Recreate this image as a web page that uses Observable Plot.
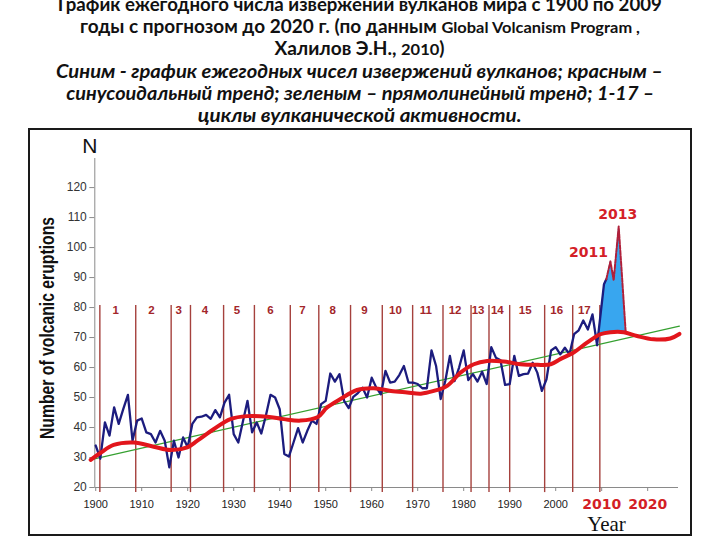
<!DOCTYPE html>
<html><head><meta charset="utf-8">
<script src="https://cdn.jsdelivr.net/npm/d3@7"></script>
<script src="https://cdn.jsdelivr.net/npm/@observablehq/plot@0.6"></script>
<style>
body{margin:0;width:720px;height:540px;overflow:hidden;background:#fff;position:relative;}
#title{position:absolute;left:0;top:-7px;width:720px;font-family:Lato,"Noto Sans",sans-serif;font-weight:bold;font-size:18.5px;line-height:22.2px;color:#111;}
#title .row{text-align:center;white-space:nowrap;height:22.2px;}
#title .ln{display:inline-block;transform-origin:50% 50%;}
#title .sm{font-size:16px}
#title .it{font-style:italic;font-size:19.5px}
#frame{position:absolute;left:28px;top:128px;width:664px;height:408px;box-sizing:border-box;border:2px solid #1a1a1a;}
#chart{position:absolute;left:0;top:125px;}
</style></head>
<body>
<div id="title">
<div class="row"><span class="ln">График ежегодного числа извержений вулканов мира с 1900 по 2009</span></div>
<div class="row"><span class="ln">годы с прогнозом до 2020 г. (по данным <span class="sm">Global Volcanism Program ,</span></span></div>
<div class="row"><span class="ln">Халилов Э.Н., <span class="sm">2010</span>)</span></div>
<div class="row"><span class="ln it">Синим - график ежегодных чисел извержений вулканов; красным –</span></div>
<div class="row"><span class="ln it">синусоидальный тренд; зеленым – прямолинейный тренд; 1-17 –</span></div>
<div class="row"><span class="ln it">циклы вулканической активности.</span></div>
</div>
<div id="frame"></div>
<div id="chart"></div>
<script>
// Observed annual eruption counts 1900–2009
const years = [1900,1901,1902,1903,1904,1905,1906,1907,1908,1909,1910,1911,1912,1913,1914,1915,1916,1917,1918,1919,1920,1921,1922,1923,1924,1925,1926,1927,1928,1929,1930,1931,1932,1933,1934,1935,1936,1937,1938,1939,1940,1941,1942,1943,1944,1945,1946,1947,1948,1949,1950,1951,1952,1953,1954,1955,1956,1957,1958,1959,1960,1961,1962,1963,1964,1965,1966,1967,1968,1969,1970,1971,1972,1973,1974,1975,1976,1977,1978,1979,1980,1981,1982,1983,1984,1985,1986,1987,1988,1989,1990,1991,1992,1993,1994,1995,1996,1997,1998,1999,2000,2001,2002,2003,2004,2005,2006,2007,2008,2009];
const eruptions = [34,29.6,41.7,37.3,46.7,41.2,46.2,50.9,35.6,42.3,43,38.4,37.8,35,38.9,35.6,26.7,35.6,30,36.7,33.4,41.2,43.4,43.6,44.2,42.9,45.8,43.4,48.3,50.9,37.8,35,42,48.9,38.4,41.7,38,44,50.9,50,46.1,31.2,30.3,35,39.8,35,38.9,42.3,41.2,47.8,48.9,58,55.3,57.8,48.9,46.5,50.2,51.5,53.3,50,56.6,53.3,51.1,58.9,55,55.3,57.5,60.5,55,55,54.5,53.1,53.1,65.7,60.5,49.5,55.5,63.9,55.5,60,65.7,55.8,57.8,55.3,58.6,54.5,66.8,63.3,62.4,54.2,54.5,63.9,57.2,57.8,58,61.6,58.3,52.2,56.1,65.7,66.8,64.4,66.6,64.4,71.1,72.4,75.7,72.7,77.7,67.5];

// Forecast peak (filled blue)
const forecastYears = [2009, 2010.5, 2011, 2011.9, 2012.6, 2013.7, 2015.2];
const forecastValues = [67.5, 87.8, 89.4, 95.4, 89.1, 107, 72.2];
const forecastBase = [71.4, 71.7, 71.8, 71.8, 71.8, 71.8, 71.7];
const forecastLabels = ["", "", "", "2011", "", "2013", ""];

// Sinusoidal trend (red)
const sinYears = [1898.9,1901.0,1903.9,1908.3,1912.6,1916.3,1919.9,1922.1,1925.7,1929.3,1932.9,1937.3,1940.9,1944.5,1948.2,1950.3,1953.2,1956.8,1960.5,1964.2,1967.7,1970.7,1973.5,1976.4,1979.3,1982.2,1985.1,1988.7,1992.3,1996.0,1998.9,2001.0,2003.9,2006.8,2009.7,2011.9,2014.8,2017.7,2021.3,2024.9,2026.9];
const sinValues = [29.2,31.5,34.2,35,33.6,32.5,33.4,35.6,39.5,42.8,43.8,43.6,42.8,42.3,43.4,46.7,49.5,52.5,53.1,52.2,51.7,51.3,52.2,53.9,58.3,61.1,62.2,62,61.1,60.9,61.1,62.8,65,68.3,71.1,71.8,71.8,70.5,69.4,69.7,71.2];

// Linear trend (green)
const trendYears = [1899.0, 2026.9];
const trendValues = [29.3, 73.8];

// Cycles of volcanic activity (boundaries) and their numbers
const cycleBounds = [1900.9,1908.7,1916.4,1920.6,1927.8,1934.5,1942.3,1948.5,1955.4,1962.3,1968.9,1975.5,1981.6,1985.5,1990.0,1997.6,2003.7,2009.6];
const cycleNames = ["1","2","3","4","5","6","7","8","9","10","11","12","13","14","15","16","17"];

// Axes
const xDomain = [1899.8, 2026.7];
const yDomain = [20, 129.7];
const yTicks = [20,30,40,50,60,70,80,90,100,110,120];
const xTicksBlack = [1900,1910,1920,1930,1940,1950,1960,1970,1980,1990,2000];
const xTicksRed = [2010,2020];

// Title line widths (layout)
const titleWidths = [604, 560, 170, 607, 588, 324];
document.querySelectorAll("#title .ln").forEach((el, i) => {
  const w = el.getBoundingClientRect().width;
  el.style.transform = `scaleX(${titleWidths[i] / w})`;
});

const obs = years.map((x, i) => ({x, y: eruptions[i]}));
const fc = forecastYears.map((x, i) => ({x, y: forecastValues[i], b: forecastBase[i], label: forecastLabels[i]}));
const sin = sinYears.map((x, i) => ({x, y: sinValues[i]}));
const trend = trendYears.map((x, i) => ({x, y: trendValues[i]}));
const cycles = cycleNames.map((t, i) => ({t, x: (cycleBounds[i] + cycleBounds[i + 1]) / 2}));

const cycleTop = 80.7, cycleBottom = 18.3, cycleLabelLevel = 79;

const chart = Plot.plot({
  width: 720, height: 415,
  marginLeft: 94.3, marginRight: 42, marginTop: 33, marginBottom: 53,
  x: {domain: xDomain, axis: null},
  y: {domain: yDomain, axis: null},
  style: {fontFamily: "'Liberation Sans', Arial, sans-serif", background: "transparent", overflow: "visible"},
  marks: [
    Plot.ruleY([yDomain[0]], {stroke: "#8a8a8a", strokeWidth: 1}),
    Plot.ruleX([xDomain[0]], {stroke: "#8a8a8a", strokeWidth: 1}),
    Plot.axisY({ticks: yTicks, tickSize: 5, tickPadding: 3, fontSize: 12, fill: "#333", stroke: "#8a8a8a", label: null}),
    Plot.axisX({ticks: xTicksBlack, tickSize: 4, tickPadding: 9, fontSize: 11, fill: "#222", stroke: "#8a8a8a", tickFormat: d => String(d), label: null}),
    Plot.axisX({ticks: xTicksRed, tickSize: 4, tickPadding: 8, fontSize: 14, fontWeight: "bold", fontFamily: "'DejaVu Sans', sans-serif", fill: "#d31f26", stroke: "#8a8a8a", tickFormat: d => String(d), label: null}),
    Plot.ruleX(cycleBounds, {y1: cycleBottom, y2: cycleTop, stroke: "#a5413d", strokeWidth: 1.4}),
    Plot.text(cycles, {x: "x", y: cycleLabelLevel, text: "t", dx: -2, fill: "#a3262a", fontWeight: "bold", fontSize: 11.5}),
    Plot.line(trend, {x: "x", y: "y", stroke: "#35a030", strokeWidth: 1.2}),
    Plot.areaY(fc, {x: "x", y1: "b", y2: "y", fill: "#38a6ef"}),
    Plot.line(obs, {x: "x", y: "y", stroke: "#1c1c7e", strokeWidth: 2.3, strokeLinejoin: "round"}),
    Plot.line(fc.slice(0, 3), {x: "x", y: "y", stroke: "#1c1c7e", strokeWidth: 2.3}),
    Plot.line(fc.slice(2), {x: "x", y: "y", stroke: "#b0203a", strokeWidth: 2, strokeDasharray: "4,1.5"}),
    Plot.line(sin, {x: "x", y: "y", curve: "catmull-rom", stroke: "#e2161c", strokeWidth: 4}),
    Plot.text(fc, {filter: d => d.label === "2011", x: "x", y: "y", text: "label", dx: -22, dy: -9, fill: "#d42027", fontWeight: "bold", fontSize: 14, fontFamily: "'DejaVu Sans', sans-serif"}),
    Plot.text(fc, {filter: d => d.label === "2013", x: "x", y: "y", text: "label", dx: -1, dy: -12, fill: "#d42027", fontWeight: "bold", fontSize: 14, fontFamily: "'DejaVu Sans', sans-serif"}),
    Plot.text(["N"], {frameAnchor: "top-left", textAnchor: "middle", dx: -5, dy: -20, fontSize: 21, fill: "#111"}),
    Plot.text(["Number of volcanic eruptions"], {frameAnchor: "left", textAnchor: "middle", rotate: -90, dx: -47, dy: 5, fontSize: 20, fontWeight: "bold", fill: "#111", fontFamily: "'Liberation Sans', Arial, sans-serif"}),
    Plot.text(["Year"], {frameAnchor: "bottom-right", textAnchor: "middle", dx: -72, dy: 43, fontSize: 21, fill: "#111", fontFamily: "'Liberation Serif', 'DejaVu Serif', serif"})
  ]
});
// compress the narrow y-axis title to the reference length
d3.select(chart).selectAll("text").filter(function() { return this.textContent === "Number of volcanic eruptions"; })
  .attr("textLength", 222).attr("lengthAdjust", "spacingAndGlyphs");
document.getElementById("chart").appendChild(chart);
</script>
</body></html>
